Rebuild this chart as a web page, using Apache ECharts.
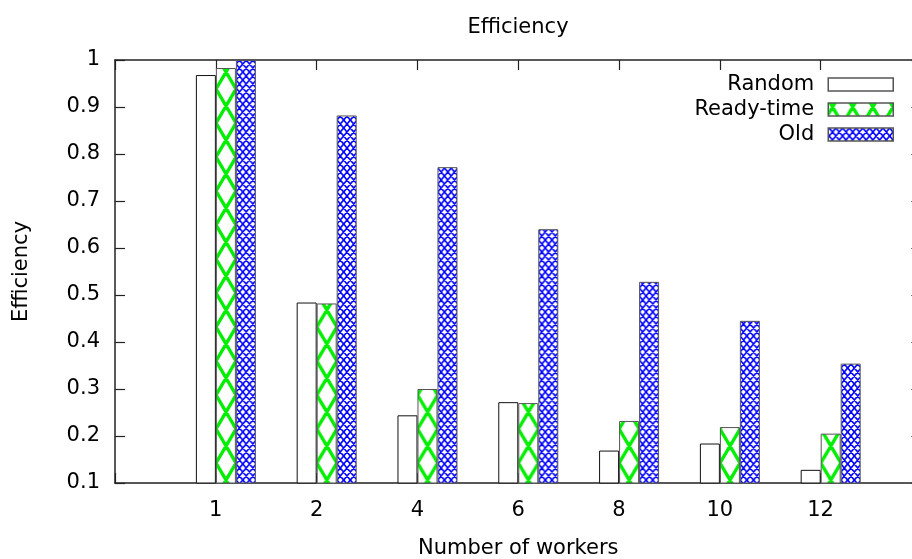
<!DOCTYPE html>
<html>
<head>
<meta charset="utf-8">
<script src="https://cdn.jsdelivr.net/npm/echarts@6/dist/echarts.min.js"></script>
<style>
html,body{margin:0;padding:0;background:#fff;}
#chart{width:912px;height:559px;}
</style>
</head>
<body>
<div id="chart"></div>
<script>
// ---- data ----
const categories = ['1', '2', '4', '6', '8', '10', '12'];
const seriesNames = ['Random', 'Ready-time', 'Old'];
const randomValues = [0.968, 0.484, 0.244, 0.272, 0.169, 0.184, 0.128];
const readyTimeValues = [0.983, 0.482, 0.300, 0.270, 0.232, 0.219, 0.205];
const oldValues = [1.0, 0.882, 0.772, 0.640, 0.528, 0.445, 0.354];
const chartTitle = 'Efficiency';
const xAxisName = 'Number of workers';
const yAxisName = 'Efficiency';

// ---- patterns ----
function makeGreenPattern() {
  const w = 20, h = 34;
  const c = document.createElement('canvas');
  c.width = w; c.height = h;
  const g = c.getContext('2d');
  g.fillStyle = '#ffffff';
  g.fillRect(0, 0, w, h);
  g.strokeStyle = '#00ee00';
  g.lineWidth = 3.4;
  g.beginPath();
  for (let dx = -w; dx <= w; dx += w) {
    for (let dy = -h; dy <= h; dy += h) {
      g.moveTo(dx, dy); g.lineTo(dx + w, dy + h);
      g.moveTo(dx + w, dy); g.lineTo(dx, dy + h);
    }
  }
  g.stroke();
  return c;
}
function makeBluePattern() {
  const n = 3, cw = 20 / 3, ch = 8;
  const w = 20, h = ch * n;
  const c = document.createElement('canvas');
  c.width = w; c.height = h;
  const g = c.getContext('2d');
  g.fillStyle = '#ffffff';
  g.fillRect(0, 0, w, h);
  g.strokeStyle = '#0000ff';
  g.lineWidth = 1.6;
  g.beginPath();
  // diagonal lines through cell corners, both directions
  for (let k = -n * 2; k <= n * 2; k++) {
    const x0 = k * cw;
    g.moveTo(x0, 0); g.lineTo(x0 + w, h);
    g.moveTo(x0 + w, 0); g.lineTo(x0, h);
    g.moveTo(x0, -h); g.lineTo(x0 + w, 0);
    g.moveTo(x0, h); g.lineTo(x0 + w, 2 * h);
    g.moveTo(x0 + w, -h); g.lineTo(x0, 0);
    g.moveTo(x0 + w, h); g.lineTo(x0, 2 * h);
  }
  g.stroke();
  return c;
}
const greenFill = { image: makeGreenPattern(), repeat: 'repeat', x: -5.84, y: 55, scaleX: 1.008, scaleY: 1 };
const blueFill = { image: makeBluePattern(), repeat: 'repeat', x: -5.84, y: 0, scaleX: 1.008, scaleY: 1 };

const FONT = 'DejaVu Sans';
const FS = 21;
const toPairs = arr => arr.map((v, i) => [i, v]);

const chart = echarts.init(document.getElementById('chart'), null, { renderer: 'canvas' });

const baseTick = { show: true, inside: true, length: 10, lineStyle: { color: '#222', width: 1.2 } };

const option = {
  animation: false,
  backgroundColor: '#ffffff',
  textStyle: { fontFamily: FONT },
  title: {
    text: chartTitle,
    left: 518, top: 17, textAlign: 'center', padding: 0,
    textStyle: { fontFamily: FONT, fontSize: FS, fontWeight: 'normal', color: '#000' }
  },
  legend: {
    orient: 'vertical',
    align: 'right',
    right: 18, top: 74,
    padding: 0,
    itemWidth: 65, itemHeight: 13, itemGap: 4,
    icon: 'rect',
    data: seriesNames,
    itemStyle: { borderColor: '#555', borderWidth: 1.5 },
    textStyle: { fontFamily: FONT, fontSize: FS, color: '#000', lineHeight: 21, padding: [0, 9, 0, 0] },
    selectedMode: false
  },
  grid: { left: 115, right: -9.4, top: 60, bottom: 76, containLabel: false, outerBoundsMode: 'none' },
  xAxis: [
    {
      type: 'value', position: 'bottom', min: -1, max: 7, interval: 1,
      name: xAxisName, nameLocation: 'middle', nameGap: 55,
      nameTextStyle: { fontFamily: FONT, fontSize: FS, color: '#000' },
      axisLine: { show: true, onZero: false, lineStyle: { color: '#222', width: 1.5 } },
      axisTick: baseTick,
      axisLabel: {
        margin: 17, fontFamily: FONT, fontSize: FS, color: '#000',
        showMinLabel: true, showMaxLabel: true,
        formatter: v => (categories[Math.round(v)] !== undefined && Math.abs(v - Math.round(v)) < 1e-6) ? categories[Math.round(v)] : ''
      },
      splitLine: { show: false }
    },
    {
      type: 'value', position: 'bottom', min: -1.1, max: 6.9, show: false,
      axisLine: { onZero: false }, splitLine: { show: false }
    },
    {
      type: 'value', position: 'top', min: -1, max: 7, interval: 1,
      axisLine: { show: true, onZero: false, lineStyle: { color: '#222', width: 1.5 } },
      axisTick: baseTick,
      axisLabel: { show: false },
      splitLine: { show: false }
    }
  ],
  yAxis: [
    {
      type: 'value', position: 'left', min: 0.1, max: 1, interval: 0.1,
      name: yAxisName, nameLocation: 'middle', nameGap: 83,
      nameTextStyle: { fontFamily: FONT, fontSize: FS, color: '#000' },
      axisLine: { show: true, onZero: false, lineStyle: { color: '#222', width: 1.5 } },
      axisTick: baseTick,
      axisLabel: {
        margin: 15, fontFamily: FONT, fontSize: FS, color: '#000',
        showMinLabel: true, showMaxLabel: true,
        formatter: v => String(Math.round(v * 10) / 10)
      },
      splitLine: { show: false }
    },
    {
      type: 'value', position: 'right', min: 0.1, max: 1, interval: 0.1,
      axisLine: { show: false, onZero: false },
      axisTick: baseTick,
      axisLabel: { show: false },
      splitLine: { show: false }
    }
  ],
  series: [
    {
      name: seriesNames[0], type: 'bar', xAxisIndex: 1, yAxisIndex: 0,
      data: toPairs(randomValues), barWidth: 20, barGap: '0%',
      itemStyle: { color: '#ffffff', borderColor: '#111', borderWidth: 1 }
    },
    {
      name: seriesNames[1], type: 'bar', xAxisIndex: 1, yAxisIndex: 0,
      data: toPairs(readyTimeValues), barWidth: 20, barGap: '0%',
      itemStyle: { color: greenFill, borderColor: '#555', borderWidth: 1 }
    },
    {
      name: seriesNames[2], type: 'bar', xAxisIndex: 1, yAxisIndex: 0,
      data: toPairs(oldValues), barWidth: 20, barGap: '0%',
      itemStyle: { color: blueFill, borderColor: '#555', borderWidth: 1 }
    }
  ]
};
chart.setOption(option);
</script>
</body>
</html>
